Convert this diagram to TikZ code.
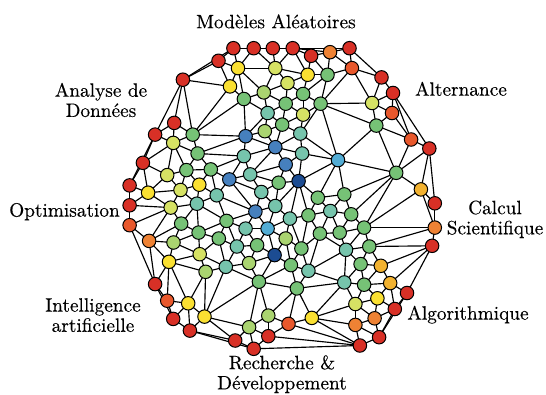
\documentclass[tikz,border=0pt]{standalone}
\usepackage{fontspec}
\newfontfamily\lblfont{lmroman10-regular.otf}[FakeBold=0.3]
\usetikzlibrary{backgrounds}
\definecolor{cR}{RGB}{216,48,38}
\definecolor{cOR}{RGB}{232,88,44}
\definecolor{cO}{RGB}{238,130,52}
\definecolor{cYO}{RGB}{242,178,48}
\definecolor{cY}{RGB}{250,224,50}
\definecolor{cYG}{RGB}{214,226,100}
\definecolor{cLG}{RGB}{170,212,112}
\definecolor{cG}{RGB}{118,194,118}
\definecolor{cT}{RGB}{118,196,172}
\definecolor{cC}{RGB}{82,172,212}
\definecolor{cSB}{RGB}{70,128,190}
\definecolor{cDB}{RGB}{28,76,146}
% ---------- node data and Delaunay-style connector computation ----------
\newcount\DLnum \DLnum=0
\newcount\DLi \newcount\DLj \newcount\DLk
\newcount\DLdx \newcount\DLdy
\newcount\DLpx \newcount\DLpy \newcount\DLqx \newcount\DLqy
\newcount\DLcr \newcount\DLdt \newcount\DLt \newcount\DLabs
\newcount\DLlmin \newcount\DLrmax \newcount\DLmaxsq
\DLmaxsq=1322500
\let\DLedge\relax
\def\DLedges{}
\def\DLadd#1#2#3{\global\advance\DLnum by 1
  \expandafter\xdef\csname DLx\the\DLnum\endcsname{\the\numexpr #1*1000/287\relax}%
  \expandafter\xdef\csname DLy\the\DLnum\endcsname{\the\numexpr #2*1000/301\relax}%
  \expandafter\xdef\csname DLc\the\DLnum\endcsname{#3}}
\def\DLX#1{\csname DLx#1\endcsname}
\def\DLY#1{\csname DLy#1\endcsname}
\def\DLtest{%
  \DLpx=\numexpr\DLX{\the\DLk}-\DLX{\the\DLi}\relax
  \DLpy=\numexpr\DLY{\the\DLk}-\DLY{\the\DLi}\relax
  \DLqx=\numexpr\DLX{\the\DLk}-\DLX{\the\DLj}\relax
  \DLqy=\numexpr\DLY{\the\DLk}-\DLY{\the\DLj}\relax
  \DLcr=\numexpr\DLdx*\DLpy-\DLdy*\DLpx\relax
  \DLdt=\numexpr\DLpx*\DLqx+\DLpy*\DLqy\relax
  \ifnum\DLcr=0
    \ifnum\DLdt<0 \DLrmax=\DLlmin\fi
  \else
    \DLabs=\ifnum\DLdt<0 -\fi\DLdt
    \divide\DLabs by 1000000
    \ifnum\DLabs<\ifnum\DLcr<0 -\fi\DLcr
      \DLt=\numexpr1000*\DLdt/\DLcr\relax
    \else
      \ifnum\DLdt<0
        \ifnum\DLcr<0 \DLt=2000000000 \else \DLt=-2000000000 \fi
      \else
        \ifnum\DLcr<0 \DLt=-2000000000 \else \DLt=2000000000 \fi
      \fi
    \fi
    \ifnum\DLcr>0
      \ifnum\DLt<\DLlmin \DLlmin=\DLt\fi
    \else
      \ifnum\DLt>\DLrmax \DLrmax=\DLt\fi
    \fi
  \fi}
\def\DLinner{%
  \ifnum\DLk>\DLnum\else
    \ifnum\DLk=\DLi\else\ifnum\DLk=\DLj\else
      \ifnum\DLrmax<\DLlmin \DLtest\fi
    \fi\fi
    \advance\DLk by 1
    \expandafter\DLinner
  \fi}
\def\DLpair{%
  \DLdx=\numexpr\DLX{\the\DLj}-\DLX{\the\DLi}\relax
  \DLdy=\numexpr\DLY{\the\DLj}-\DLY{\the\DLi}\relax
  \ifnum\numexpr\DLdx*\DLdx+\DLdy*\DLdy\relax<\DLmaxsq
    \DLlmin=2147483647 \DLrmax=-2147483647
    \DLk=1
    \DLinner
    \ifnum\DLrmax<\DLlmin
      \xdef\DLedges{\DLedges\DLedge{\the\DLi}{\the\DLj}}%
    \fi
  \fi}
\def\DLmiddle{%
  \ifnum\DLj>\DLnum\else
    \DLpair
    \advance\DLj by 1
    \expandafter\DLmiddle
  \fi}
\def\DLouter{%
  \ifnum\DLi<\DLnum
    \DLj=\DLi \advance\DLj by 1
    \DLmiddle
    \advance\DLi by 1
    \expandafter\DLouter
  \fi}
\def\DLcompute{\DLi=1 \DLouter}
\DLadd{670}{145}{cR}
\DLadd{728}{145}{cR}
\DLadd{783}{145}{cR}
\DLadd{840}{145}{cR}
\DLadd{893}{168}{cR}
\DLadd{947}{157}{cO}
\DLadd{1003}{145}{cR}
\DLadd{627}{183}{cR}
\DLadd{683}{205}{cY}
\DLadd{790}{205}{cYG}
\DLadd{883}{225}{cY}
\DLadd{940}{225}{cG}
\DLadd{1010}{205}{cOR}
\DLadd{525}{240}{cR}
\DLadd{660}{260}{cY}
\DLadd{825}{250}{cYG}
\DLadd{757}{278}{cLG}
\DLadd{870}{283}{cG}
\DLadd{700}{298}{cG}
\DLadd{820}{312}{cG}
\DLadd{920}{312}{cG}
\DLadd{1095}{233}{cR}
\DLadd{1128}{280}{cR}
\DLadd{1068}{310}{cYG}
\DLadd{1125}{340}{cOR}
\DLadd{768}{340}{cT}
\DLadd{870}{345}{cYG}
\DLadd{810}{375}{cG}
\DLadd{760}{395}{cLG}
\DLadd{862}{402}{cT}
\DLadd{1080}{378}{cG}
\DLadd{500}{370}{cR}
\DLadd{445}{405}{cR}
\DLadd{553}{405}{cG}
\DLadd{497}{430}{cYG}
\DLadd{705}{410}{cSB}
\DLadd{790}{443}{cSB}
\DLadd{1180}{420}{cOR}
\DLadd{1232}{447}{cR}
\DLadd{410}{490}{cR}
\DLadd{567}{462}{cG}
\DLadd{700}{470}{cT}
\DLadd{867}{462}{cT}
\DLadd{970}{482}{cC}
\DLadd{480}{527}{cYG}
\DLadd{535}{512}{cG}
\DLadd{605}{510}{cG}
\DLadd{820}{495}{cSB}
\DLadd{372}{558}{cR}
\DLadd{425}{580}{cY}
\DLadd{518}{572}{cYG}
\DLadd{572}{556}{cY}
\DLadd{658}{540}{cSB}
\DLadd{718}{525}{cT}
\DLadd{800}{550}{cG}
\DLadd{857}{545}{cDB}
\DLadd{1137}{520}{cG}
\DLadd{372}{618}{cR}
\DLadd{490}{625}{cYG}
\DLadd{565}{613}{cT}
\DLadd{622}{588}{cT}
\DLadd{750}{578}{cT}
\DLadd{912}{595}{cG}
\DLadd{988}{585}{cG}
\DLadd{1208}{570}{cYO}
\DLadd{1248}{612}{cR}
\DLadd{372}{678}{cOR}
\DLadd{520}{673}{cG}
\DLadd{650}{665}{cG}
\DLadd{733}{637}{cSB}
\DLadd{790}{620}{cT}
\DLadd{832}{658}{cT}
\DLadd{885}{648}{cG}
\DLadd{948}{635}{cT}
\DLadd{1008}{645}{cG}
\DLadd{1248}{685}{cO}
\DLadd{428}{725}{cO}
\DLadd{498}{730}{cLG}
\DLadd{570}{700}{cG}
\DLadd{628}{718}{cG}
\DLadd{705}{688}{cT}
\DLadd{768}{688}{cC}
\DLadd{918}{703}{cG}
\DLadd{975}{700}{cG}
\DLadd{1045}{685}{cG}
\DLadd{1240}{740}{cR}
\DLadd{485}{788}{cY}
\DLadd{573}{765}{cYG}
\DLadd{680}{742}{cT}
\DLadd{738}{738}{cG}
\DLadd{820}{718}{cLG}
\DLadd{865}{748}{cG}
\DLadd{993}{752}{cT}
\DLadd{1060}{742}{cG}
\DLadd{590}{818}{cLG}
\DLadd{648}{803}{cT}
\DLadd{715}{792}{cLG}
\DLadd{788}{768}{cDB}
\DLadd{835}{798}{cG}
\DLadd{885}{815}{cT}
\DLadd{1035}{795}{cG}
\DLadd{1093}{800}{cYO}
\DLadd{445}{855}{cR}
\DLadd{743}{848}{cG}
\DLadd{852}{868}{cG}
\DLadd{988}{850}{cT}
\DLadd{1045}{857}{cG}
\DLadd{1120}{852}{cYO}
\DLadd{480}{905}{cOR}
\DLadd{540}{913}{cY}
\DLadd{1168}{882}{cR}
\DLadd{1083}{898}{cY}
\DLadd{1020}{915}{cYG}
\DLadd{497}{960}{cR}
\DLadd{587}{953}{cY}
\DLadd{715}{985}{cLG}
\DLadd{770}{950}{cLG}
\DLadd{828}{975}{cOR}
\DLadd{895}{957}{cY}
\DLadd{1133}{930}{cR}
\DLadd{1075}{958}{cO}
\DLadd{1020}{978}{cO}
\DLadd{545}{995}{cR}
\DLadd{675}{1025}{cR}
\DLadd{770}{1012}{cR}
\DLadd{728}{1050}{cR}
\DLadd{1033}{1040}{cR}
\DLadd{1088}{1015}{cR}
\DLcompute
\begin{document}
\begin{tikzpicture}[x=0.1pt,y=-0.1pt,
  nd/.style={circle,draw=black,line width=1pt,minimum size=13.5pt,inner sep=0pt},
  edge/.style={line width=1.15pt,black},
  lbl/.style={font=\lblfont\fontsize{19.3}{20.2}\selectfont,align=center,inner sep=0pt}]
\useasboundingbox (0,0) rectangle (5460,3940);
\foreach \i in {1,...,128}{%
  \edef\DLcol{\csname DLc\i\endcsname}%
  \edef\DLpxx{\csname DLx\i\endcsname}%
  \edef\DLpyy{\csname DLy\i\endcsname}%
  \node[nd,fill=\DLcol] (n\i) at (\DLpxx,\DLpyy) {};
}
\begin{pgfonlayer}{background}
\def\DLedge#1#2{\draw[edge] (n#1.center) -- (n#2.center);}
\DLedges
\end{pgfonlayer}
\node[lbl,anchor=base] (tM) at (2760,282) {Modèles Aléatoires};
\node[lbl,anchor=base] (tAl) at (4610,957) {Alternance};
\node[lbl] (tAD) at (1010,1000) {Analyse de\\Données};
\node[lbl,anchor=base] (tO) at (645,2166) {Optimisation};
\node[lbl] (tCS) at (4950,2193) {Calcul\\Scientifique};
\node[lbl] (tIA) at (930,3151) {Intelligence\\artificielle};
\node[lbl,anchor=base] (tAlg) at (4680,3196) {Algorithmique};
\node[lbl] (tRD) at (2820,3742) {Recherche \&\\Développement};
\end{tikzpicture}
\end{document}
